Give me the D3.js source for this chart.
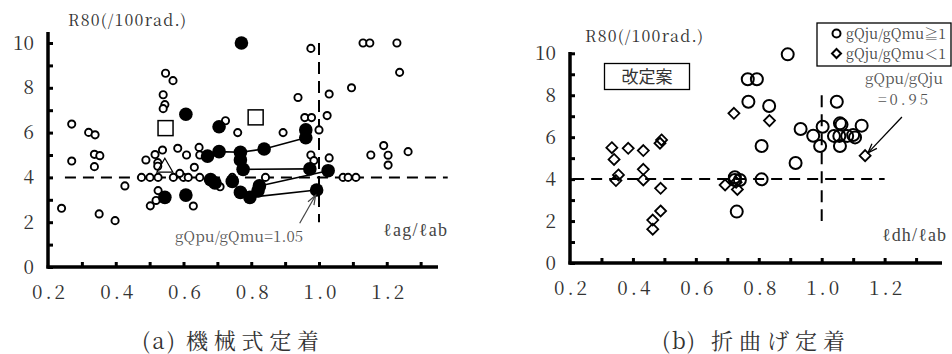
<!DOCTYPE html>
<html><head><meta charset="utf-8">
<script src="https://cdn.jsdelivr.net/npm/d3@7"></script>
<style>
html,body{margin:0;padding:0;background:#fff;}
svg{display:block;}
</style></head>
<body>
<svg id="chart" width="952" height="354"></svg>
<script>
// ---------- DATA ----------
const yTicks = [0,1,2,3,4,5,6,7,8,9,10];
const yLabels = ["0","2","4","6","8","10"];
const xTicks = [0.2,0.3,0.4,0.5,0.6,0.7,0.8,0.9,1.0,1.1,1.2,1.3];
const xLabels = ["0.2","0.4","0.6","0.8","1.0","1.2"];

// (a) mechanical anchorage
const leftOpen = [
 [0.27,6.38],[0.32,6.01],[0.339,5.9],[0.337,5.03],[0.353,4.97],[0.27,4.73],[0.337,4.48],[0.427,3.62],[0.24,2.62],[0.351,2.37],[0.398,2.07],
 [0.547,8.65],[0.569,8.32],[0.54,7.69],[0.545,7.25],[0.54,7.07],
 [0.489,4.78],[0.516,5.02],[0.538,5.22],[0.583,5.3],[0.609,5.0],[0.646,5.34],[0.648,5.0],[0.524,4.66],[0.524,4.5],
 [0.476,4.0],[0.501,4.0],[0.525,4.0],[0.57,4.0],[0.6,4.0],[0.614,4.0],[0.648,4.0],[0.589,4.18],[0.632,4.45],
 [0.525,3.41],[0.519,2.97],[0.502,2.73],[0.629,2.72],[0.708,3.58],[0.744,4.0],[0.842,4.0],
 [0.724,6.53],[0.76,6.0],[0.894,6.0],[0.938,7.57],[0.976,9.76],[0.958,6.67],[0.978,6.67],[1.0,6.12],[1.024,6.76],[1.03,7.72],[1.096,8.0],
 [0.976,5.0],[0.985,4.75],[1.03,4.87],
 [1.13,10.0],[1.15,10.0],[1.23,10.0],[1.238,8.69],[1.153,5.0],[1.191,5.42],[1.204,4.99],[1.204,4.55],[1.263,5.15],
 [1.071,4.0],[1.086,4.0],[1.109,4.0]
];
const leftFilled = [
 [0.771,10.0],[0.607,6.82],[0.705,6.26],[0.961,6.12],[0.961,5.77],[0.838,5.27],[0.768,5.12],[0.705,5.15],[0.671,4.95],
 [0.768,4.78],[0.776,4.36],[0.973,4.38],[1.027,4.3],[0.68,3.9],[0.693,3.75],[0.744,3.82],[0.768,3.33],[0.796,3.11],
 [0.82,3.4],[0.824,3.62],[0.993,3.44],[0.545,3.11],[0.607,3.21]
];
const leftSquares = [[0.547,6.2],[0.813,6.68]];
const leftTriangles = [[0.545,4.5]];
const leftLines = [
 [[0.671,4.95],[0.705,5.15],[0.768,5.12],[0.838,5.27],[0.961,5.77]],
 [[0.776,4.36],[0.973,4.38]],
 [[0.824,3.62],[1.027,4.3]],
 [[0.796,3.11],[0.993,3.44]]
];
const leftArrow = [[0.943,1.95],[0.99,3.2]];

// (b) hooked anchorage
const rightCircles = [
 [0.892,9.95],[0.765,8.76],[0.794,8.76],[0.767,7.69],[0.833,7.49],[1.048,7.69],[1.058,6.66],[1.063,6.6],[1.127,6.55],
 [0.933,6.39],[0.973,6.07],[1.003,6.5],[0.995,5.58],[1.039,6.06],[1.056,6.06],[1.081,6.06],[1.106,5.99],[1.058,5.58],
 [1.1,6.1],[0.809,5.58],[0.917,4.77],[0.724,4.09],[0.74,3.96],[0.724,3.96],[0.809,3.99],[0.73,2.45]
];
const rightDiamonds = [
 [0.333,5.5],[0.385,5.47],[0.433,5.36],[0.34,4.94],[0.486,5.71],[0.491,5.87],[0.354,4.2],[0.346,3.93],[0.433,4.47],
 [0.433,3.96],[0.488,3.56],[0.463,2.05],[0.488,2.48],[0.463,1.61],[0.721,7.14],[0.834,6.79],[1.138,5.12],
 [0.693,3.72],[0.732,3.51],[0.728,3.85]
];
const rightArrow = [[1.255,6.96],[1.147,5.25]];

const yTitle = "R80(/100rad.)";
const captionTags = ["(a)","(b)"];
const captionTexts = ["機械式定着","折曲げ定着"];
const xTitles = ["ℓag/ℓab","ℓdh/ℓab"];
const legendLabels = ["gQju/gQmu≧1","gQju/gQmu＜1"];

// ---------- DRAW ----------
const svg = d3.select("#chart");
const MINCHO = '"Noto Serif CJK JP", "Liberation Serif", serif';
const SERIF = '"Liberation Serif", serif';
const GOTHIC = '"Noto Sans CJK JP", sans-serif';
function txt(sel, fam, size, fill){ return sel.style("font-family",fam).style("font-size",size+"px").attr("fill",fill); }

function panel(cfg){
  const g = svg.append("g");
  const x = d3.scaleLinear().domain([0.2,1.0]).range(cfg.xr);
  const y = d3.scaleLinear().domain([0,10]).range(cfg.yr);
  const ya = d3.axisLeft(y).tickValues(yTicks).tickSize(-5).tickPadding(14)
     .tickFormat(d => yLabels.includes(String(d)) ? String(d) : "");
  const yg = g.append("g").attr("transform",`translate(${x(0.2)},0)`).call(ya).attr("font-family",MINCHO);
  yg.select(".domain").remove();
  yg.selectAll(".tick line").attr("stroke","#000").attr("stroke-width",3);
  txt(yg.selectAll(".tick text"), MINCHO, 19, "#333");
  const xa = d3.axisBottom(x).tickValues(xTicks.filter(v=>v>0.25)).tickSize(-5).tickPadding(19)
     .tickFormat(d => { const s=d.toFixed(1); return xLabels.includes(s)?s:""; });
  const xg = g.append("g").attr("transform",`translate(0,${y(0)})`).call(xa).attr("font-family",MINCHO);
  xg.select(".domain").remove();
  xg.selectAll(".tick line").attr("stroke","#000").attr("stroke-width",3);
  txt(xg.selectAll(".tick text"), MINCHO, 19, "#333").attr("letter-spacing","3px").attr("dx","2");
  txt(xg.append("text"), MINCHO, 19, "#333").attr("x",x(0.2)+2).attr("y",19).attr("dy","0.71em").attr("text-anchor","middle")
     .attr("letter-spacing","3px").text(xLabels[0]);
  g.append("line").attr("x1",x(0.2)).attr("x2",x(0.2)).attr("y1",cfg.yTop).attr("y2",y(0)+1.5)
     .attr("stroke","#000").attr("stroke-width",3.5);
  g.append("line").attr("x1",x(0.2)-1.5).attr("x2",cfg.xEnd).attr("y1",y(0)).attr("y2",y(0))
     .attr("stroke","#000").attr("stroke-width",3.5);
  g.append("line").attr("x1",x(cfg.hdash[0])).attr("x2",x(cfg.hdash[1])).attr("y1",y(4)).attr("y2",y(4))
     .attr("stroke","#000").attr("stroke-width",2).attr("stroke-dasharray","11,7");
  g.append("line").attr("x1",x(1.0)).attr("x2",x(1.0)).attr("y1",y(cfg.vdash[0])).attr("y2",y(cfg.vdash[1]))
     .attr("stroke","#000").attr("stroke-width",2).attr("stroke-dasharray","12,7");
  txt(g.append("text"), MINCHO, 16, "#333").attr("x",cfg.titlePos[0]).attr("y",cfg.titlePos[1])
     .attr("textLength",118).attr("lengthAdjust","spacing").text(yTitle);
  txt(g.append("text"), SERIF, 18, "#444").attr("x",cfg.xtPos[0]).attr("y",cfg.xtPos[1])
     .attr("textLength",64).attr("lengthAdjust","spacing").text(cfg.xTitle);
  const cap = txt(g.append("text"), MINCHO, 22, "#333").attr("y",cfg.capY);
  cap.append("tspan").attr("x",cfg.tagX).attr("textLength",33).attr("lengthAdjust","spacing").text(cfg.tag);
  cap.append("tspan").attr("x",cfg.capX).attr("textLength",cfg.capLen).attr("lengthAdjust","spacing").text(cfg.caption);
  return {g,x,y};
}
function arrow(P,pts,color,w){
  const [a,b]=pts; const x1=P.x(a[0]),y1=P.y(a[1]),x2=P.x(b[0]),y2=P.y(b[1]);
  P.g.append("line").attr("x1",x1).attr("y1",y1).attr("x2",x2).attr("y2",y2).attr("stroke",color).attr("stroke-width",w);
  const ang=Math.atan2(y2-y1,x2-x1), L2=10, sp=0.35;
  const p1=[x2-L2*Math.cos(ang-sp),y2-L2*Math.sin(ang-sp)], p2=[x2-L2*Math.cos(ang+sp),y2-L2*Math.sin(ang+sp)];
  P.g.append("path").attr("d",`M${p1}L${x2},${y2}L${p2}`).attr("fill","none").attr("stroke",color).attr("stroke-width",w);
}

// ----- left panel -----
const L = panel({xr:[48,319], yr:[267,43], yTop:32, xEnd:438, hdash:[0.25,1.38], vdash:[10,2],
  titlePos:[68,26], xTitle:xTitles[0], xtPos:[383,236], tag:captionTags[0], caption:captionTexts[0],
  capY:349, tagX:142, capX:186, capLen:133});
const lineGen = d3.line().x(d=>L.x(d[0])).y(d=>L.y(d[1]));
L.g.selectAll(".lo").data(leftOpen).join("circle").attr("cx",d=>L.x(d[0])).attr("cy",d=>L.y(d[1])).attr("r",3.6)
  .attr("fill","#fff").attr("stroke","#000").attr("stroke-width",1.9);
L.g.selectAll(".ll").data(leftLines).join("path").attr("d",lineGen).attr("fill","none").attr("stroke","#000").attr("stroke-width",1.6);
L.g.selectAll(".lf").data(leftFilled).join("circle").attr("cx",d=>L.x(d[0])).attr("cy",d=>L.y(d[1])).attr("r",6.8).attr("fill","#000");
L.g.selectAll(".ls").data(leftSquares).join("rect").attr("x",d=>L.x(d[0])-7.5).attr("y",d=>L.y(d[1])-7.5)
  .attr("width",15).attr("height",15).attr("fill","#fff").attr("stroke","#000").attr("stroke-width",1.5);
L.g.selectAll(".lt").data(leftTriangles).join("path")
  .attr("d",d=>{const cx=L.x(d[0]),cy=L.y(d[1]);return `M${cx},${cy-8}L${cx+8},${cy+6}L${cx-8},${cy+6}Z`;})
  .attr("fill","none").attr("stroke","#000").attr("stroke-width",1.2);
txt(L.g.append("text"), MINCHO, 15, "#555").attr("x",175).attr("y",242)
  .attr("textLength",128).attr("lengthAdjust","spacing").text("gQpu/gQmu=1.05");
arrow(L,leftArrow,"#444",1.2);

// ----- right panel -----
const R = panel({xr:[570,821.7], yr:[263,53.3], yTop:52, xEnd:942, hdash:[0.21,1.2], vdash:[8,2],
  titlePos:[585,42], xTitle:xTitles[1], xtPos:[882,241], tag:captionTags[1], caption:captionTexts[1],
  capY:349, tagX:662, capX:711, capLen:134});
const diamond = (cx,cy,s)=>`M${cx},${cy-s}L${cx+s},${cy}L${cx},${cy+s}L${cx-s},${cy}Z`;
R.g.selectAll(".rd").data(rightDiamonds).join("path").attr("d",d=>diamond(R.x(d[0]),R.y(d[1]),5.5))
  .attr("fill","none").attr("stroke","#000").attr("stroke-width",1.8);
R.g.selectAll(".rc").data(rightCircles).join("circle").attr("cx",d=>R.x(d[0])).attr("cy",d=>R.y(d[1])).attr("r",6)
  .attr("fill","none").attr("stroke","#000").attr("stroke-width",2);
R.g.append("rect").attr("x",604.5).attr("y",63.5).attr("width",85).attr("height",26).attr("fill","#fff").attr("stroke","#000").attr("stroke-width",1.3);
txt(R.g.append("text"), GOTHIC, 17, "#333").attr("x",647).attr("y",82.5).attr("text-anchor","middle").text("改定案");
R.g.append("rect").attr("x",817).attr("y",23).attr("width",134).attr("height",43).attr("fill","#fff").attr("stroke","#000").attr("stroke-width",1.3);
R.g.append("circle").attr("cx",836.5).attr("cy",33.5).attr("r",4).attr("fill","none").attr("stroke","#000").attr("stroke-width",2);
R.g.append("path").attr("d",diamond(836.5,53.5,4.5)).attr("fill","none").attr("stroke","#000").attr("stroke-width",2);
txt(R.g.append("text"), MINCHO, 14, "#444").attr("x",846).attr("y",38.5)
  .attr("textLength",100).attr("lengthAdjust","spacing").text(legendLabels[0]);
txt(R.g.append("text"), MINCHO, 14, "#444").attr("x",846).attr("y",58.5)
  .attr("textLength",100).attr("lengthAdjust","spacing").text(legendLabels[1]);
txt(R.g.append("text"), MINCHO, 15, "#555").attr("x",865).attr("y",84)
  .attr("textLength",78).attr("lengthAdjust","spacing").text("gQpu/gQju");
txt(R.g.append("text"), MINCHO, 15, "#555").attr("x",878).attr("y",105)
  .attr("textLength",50).attr("lengthAdjust","spacing").text("=0.95");
arrow(R,rightArrow,"#000",1.3);
</script>
</body></html>
